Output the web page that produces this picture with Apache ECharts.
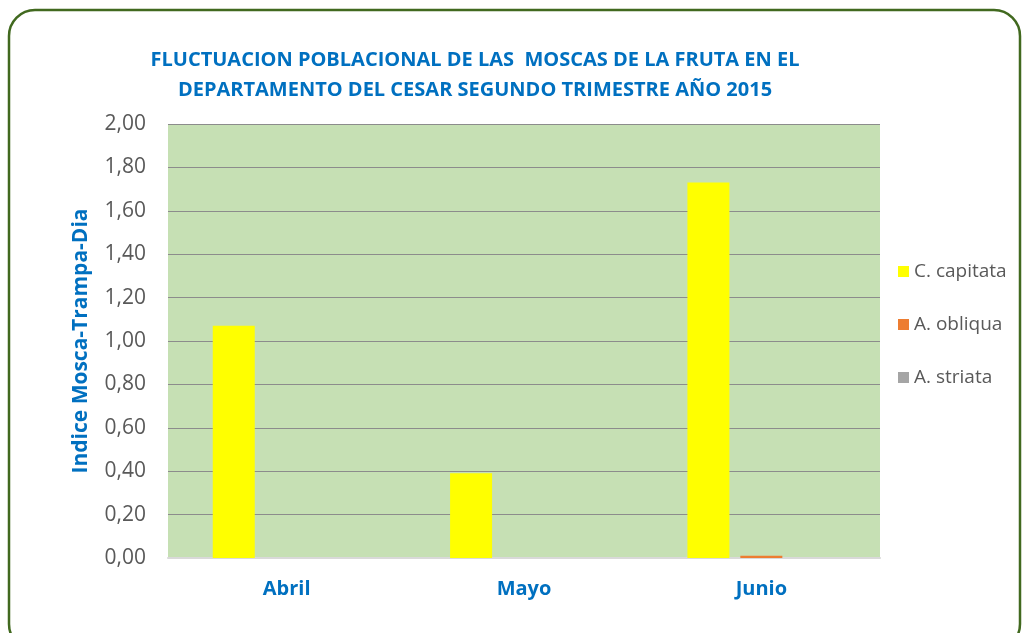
<!DOCTYPE html>
<html>
<head>
<meta charset="utf-8">
<title>Fluctuacion poblacional moscas de la fruta</title>
<script src="https://cdn.jsdelivr.net/npm/echarts@6/dist/echarts.min.js"></script>
<style>
    html, body {margin: 0; padding: 0; background: #fff;}
    #chart {width: 1023px; height: 633px;}
</style>
</head>
<body>
<div id="chart"></div>
<script>
const months = ["Abril", "Mayo", "Junio"];
const capitata = [1.07, 0.39, 1.73];
const obliqua = [0, 0, 0.01];
const striata = [0, 0, 0];
const seriesNames = ["C. capitata", "A. obliqua", "A. striata"];
const titleLines = [
    "FLUCTUACION POBLACIONAL DE LAS  MOSCAS DE LA FRUTA EN EL",
    "DEPARTAMENTO DEL CESAR SEGUNDO TRIMESTRE AÑO 2015"
];

const blue = "#0070C0";
const font = "'Open Sans', 'Noto Sans', sans-serif";

const myChart = echarts.init(document.getElementById("chart"));
myChart.setOption({
    animation: false,
    textStyle: {fontFamily: font},
    graphic: [
        {
            type: "rect",
            shape: {x: 9, y: 10, width: 1011, height: 640, r: 26},
            style: {fill: "none", stroke: "#41691F", lineWidth: 2.5},
            silent: true
        },
        {
            type: "text",
            x: 475, y: 75,
            style: {
                text: titleLines.join("\n"),
                fill: blue,
                font: "bold 20px " + font,
                textAlign: "center",
                textVerticalAlign: "middle",
                lineHeight: 30
            }
        }
    ],
    legend: {
        orient: "vertical",
        left: 898,
        top: 262,
        padding: 0,
        itemWidth: 11,
        itemHeight: 11,
        itemGap: 34,
        icon: "rect",
        textStyle: {color: "#595959", fontSize: 19, fontFamily: font},
        data: seriesNames
    },
    grid: {
        left: 168, right: 143, top: 124, bottom: 75,
        show: true,
        backgroundColor: "#C6E0B4",
        borderWidth: 0,
        containLabel: false
    },
    xAxis: {
        type: "category",
        data: months,
        axisTick: {show: false},
        axisLine: {lineStyle: {color: "#D9D9D9", width: 2}},
        axisLabel: {color: blue, fontSize: 20, fontWeight: "bold", margin: 21, fontFamily: font}
    },
    yAxis: {
        type: "value",
        min: 0, max: 2, interval: 0.2,
        name: "Indice Mosca-Trampa-Dia",
        nameLocation: "middle",
        nameGap: 76,
        nameTextStyle: {color: blue, fontSize: 21, fontWeight: "bold", fontFamily: font},
        axisLine: {show: false},
        axisTick: {show: false},
        axisLabel: {
            color: "#595959", fontSize: 21, margin: 22, fontFamily: font,
            formatter: v => v.toFixed(2).replace(".", ",")
        },
        splitLine: {lineStyle: {color: "#8C8C8C", width: 1}}
    },
    series: [
        {name: seriesNames[0], type: "bar", data: capitata, barWidth: 42, barGap: "26%", color: "#FFFF00"},
        {name: seriesNames[1], type: "bar", data: obliqua, barWidth: 42, barGap: "26%", color: "#ED7D31"},
        {name: seriesNames[2], type: "bar", data: striata, barWidth: 42, barGap: "26%", color: "#A5A5A5"}
    ]
});
</script>
</body>
</html>
